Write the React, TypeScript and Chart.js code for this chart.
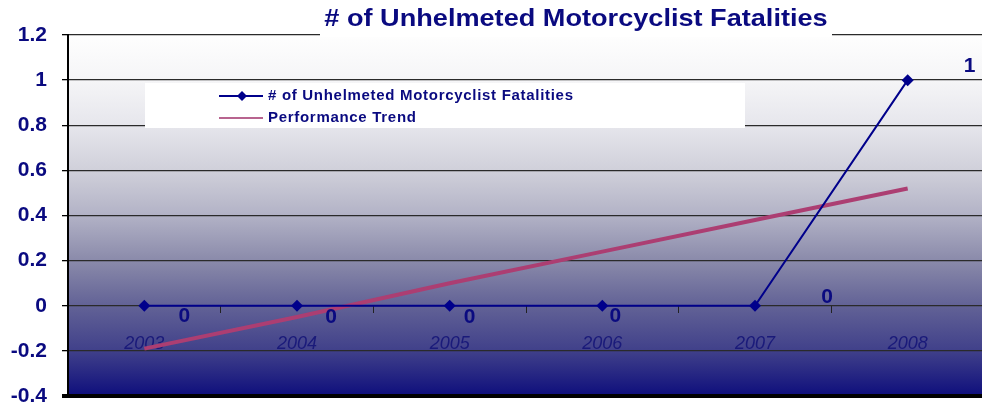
import React, { useEffect, useRef } from "react";
import { Chart, registerables } from "chart.js";

Chart.register(...registerables);

const chartTitle = "# of Unhelmeted Motorcyclist Fatalities";
const years = ["2003", "2004", "2005", "2006", "2007", "2008"];
const fatalities = [0, 0, 0, 0, 0, 1];
const trend = [-0.19, -0.05, 0.1, 0.24, 0.38, 0.52];
const fatalitiesLabel = "# of Unhelmeted Motorcyclist Fatalities";
const trendLabel = "Performance Trend";
const yMin = -0.4;
const yMax = 1.2;
const yStep = 0.2;
// label offsets (px) of the value labels, as placed in the original
const valueLabelOffsets = [
  [40, 10],
  [34, 11],
  [20, 11],
  [13, 10],
  [72, -9],
  [62, -14],
];

const NAVY = "#0a0a80";
const FONT = "'Liberation Sans', Arial, sans-serif";

const bgPlugin = {
  id: "bgGradient",
  beforeDraw(chart: any) {
    const { ctx, chartArea: a, width, height } = chart;
    ctx.save();
    ctx.fillStyle = "#ffffff";
    ctx.fillRect(0, 0, width, height);
    const g = ctx.createLinearGradient(0, a.top, 0, a.bottom);
    g.addColorStop(0, "#fefefe");
    g.addColorStop(0.125, "#f5f5f7");
    g.addColorStop(0.25, "#e6e6ec");
    g.addColorStop(0.375, "#d0d0da");
    g.addColorStop(0.5, "#b2b2c6");
    g.addColorStop(0.625, "#8a8aaa");
    g.addColorStop(0.75, "#626296");
    g.addColorStop(0.875, "#40408a");
    g.addColorStop(1, "#0e0e7c");
    ctx.fillStyle = g;
    ctx.fillRect(a.left, a.top, a.right - a.left, a.bottom - a.top);
    ctx.restore();
  },
};

const overlayPlugin = {
  id: "overlay",
  afterDraw(chart: any) {
    const { ctx } = chart;
    ctx.save();
    // title
    ctx.fillStyle = "#ffffff";
    ctx.fillRect(320, 0, 512, 37);
    ctx.fillStyle = NAVY;
    ctx.font = `bold 24px ${FONT}`;
    ctx.textAlign = "center";
    ctx.textBaseline = "middle";
    ctx.save();
    ctx.translate(576, 19);
    ctx.scale(1.13, 1);
    ctx.fillText(chartTitle, 0, 0);
    ctx.restore();

    // legend
    ctx.fillStyle = "#ffffff";
    ctx.fillRect(145, 83, 600, 45);
    const ds = chart.data.datasets;
    // row 1
    ctx.strokeStyle = ds[0].borderColor;
    ctx.lineWidth = 2;
    ctx.beginPath();
    ctx.moveTo(219, 96);
    ctx.lineTo(263, 96);
    ctx.stroke();
    ctx.fillStyle = ds[0].borderColor;
    ctx.beginPath();
    ctx.moveTo(242, 91);
    ctx.lineTo(247, 96);
    ctx.lineTo(242, 101);
    ctx.lineTo(237, 96);
    ctx.closePath();
    ctx.fill();
    // row 2
    ctx.strokeStyle = "#a0306a";
    ctx.lineWidth = 1.5;
    ctx.beginPath();
    ctx.moveTo(219, 118);
    ctx.lineTo(263, 118);
    ctx.stroke();
    ctx.fillStyle = NAVY;
    ctx.font = `bold 15px ${FONT}`;
    ctx.textAlign = "left";
    ctx.textBaseline = "middle";
    (ctx as any).letterSpacing = "0.7px";
    ctx.fillText(ds[0].label, 268, 96);
    ctx.fillText(ds[1].label, 268, 118);
    (ctx as any).letterSpacing = "0px";

    // value labels
    const meta = chart.getDatasetMeta(0);
    ctx.font = `bold 21px ${FONT}`;
    ctx.textAlign = "center";
    ctx.fillStyle = NAVY;
    meta.data.forEach((pt: any, i: number) => {
      const [dx, dy] = valueLabelOffsets[i];
      ctx.fillText(String(fatalities[i]), pt.x + dx, pt.y + dy);
    });
    ctx.restore();
  },
};

export default function App() {
  const ref = useRef<HTMLCanvasElement>(null);
  useEffect(() => {
    document.body.style.margin = "0";
    document.body.style.overflow = "hidden";
    const chart = new Chart(ref.current!, {
      type: "line",
      data: {
        labels: years,
        datasets: [
          {
            label: fatalitiesLabel,
            data: fatalities,
            borderColor: "#00008b",
            backgroundColor: "#00008b",
            borderWidth: 2,
            pointStyle: "rectRot",
            pointRadius: 6,
            pointBorderWidth: 0,
            tension: 0,
            order: 1,
          },
          {
            label: trendLabel,
            data: trend,
            borderColor: "#ac3e72",
            backgroundColor: "#ac3e72",
            borderWidth: 4,
            pointRadius: 0,
            tension: 0,
            order: 2,
          },
        ],
      },
      options: {
        animation: false,
        responsive: false,
        maintainAspectRatio: false,
        layout: { padding: { left: 0, right: 5, top: 35, bottom: 11 } },
        plugins: {
          legend: { display: false },
          title: { display: false },
          tooltip: { enabled: false },
        },
        scales: {
          x: {
            position: { y: 0 } as any,
            offset: true,
            afterFit(scale: any) {
              scale.height = 0;
            },
            grid: {
              offset: true,
              drawOnChartArea: false,
              drawTicks: true,
              tickLength: 7,
              color: "#222",
            },
            border: { display: false },
            ticks: {
              color: "#1a1a7a",
              padding: 20,
              maxRotation: 0,
              font: { family: FONT, size: 18, style: "italic" },
            },
          },
          y: {
            min: yMin,
            max: yMax,
            afterFit(scale: any) {
              scale.width = 68;
              scale.paddingTop = 0;
              scale.paddingBottom = 0;
            },
            ticks: {
              stepSize: yStep,
              color: NAVY,
              padding: 15,
              font: { family: FONT, size: 21, weight: "bold" },
              callback: (v: any) => String(parseFloat(Number(v).toFixed(1))),
            },
            grid: {
              color: (c: any) => (Math.abs(c.tick?.value - yMin) < 1e-6 ? "#000" : "#2a2a2a"),
              lineWidth: (c: any) => (Math.abs(c.tick?.value - yMin) < 1e-6 ? 4 : 1.3),
              tickLength: 6,
              tickColor: "#000",
            },
            border: { display: true, color: "#000", width: 2 },
          },
        },
      },
      plugins: [bgPlugin, overlayPlugin],
    });
    return () => chart.destroy();
  }, []);
  return (
    <div style={{ position: "fixed", left: 0, top: 0, width: 990, height: 407 }}>
      <canvas ref={ref} width={990} height={407} style={{ width: 990, height: 407, display: "block" }} />
    </div>
  );
}
